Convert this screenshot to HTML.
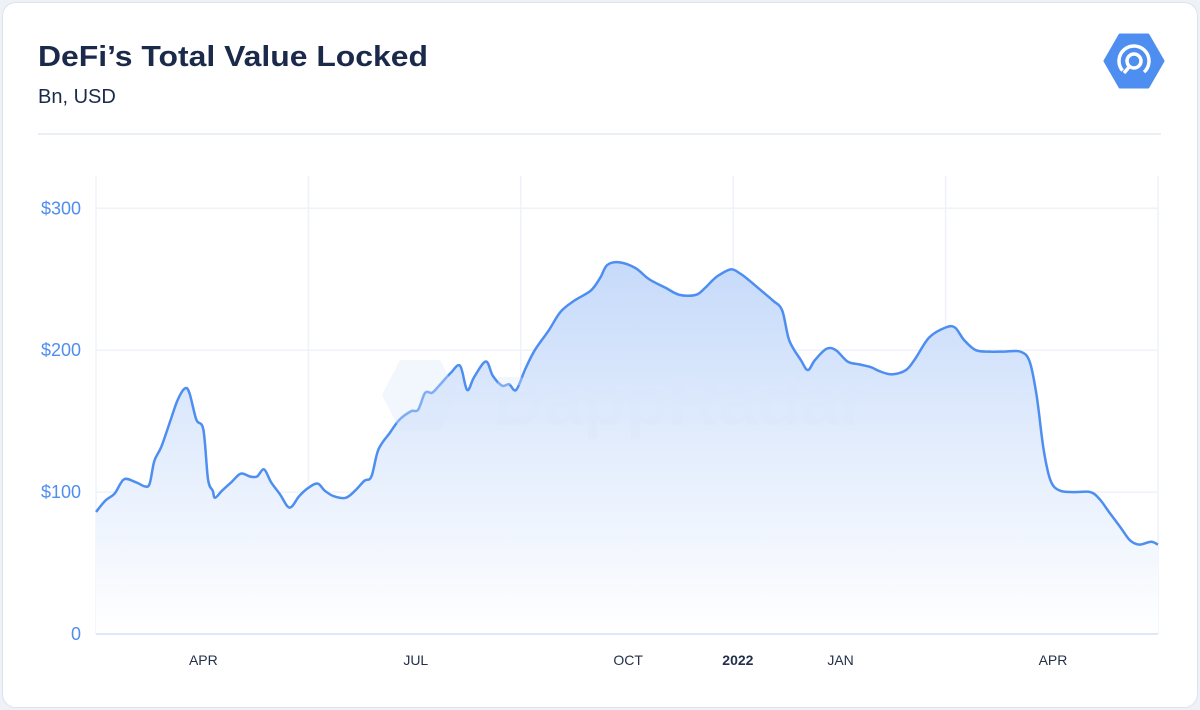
<!DOCTYPE html>
<html><head><meta charset="utf-8"><style>
body{margin:0;background:#eef1f6;font-family:"Liberation Sans",sans-serif;}
#card{position:absolute;left:2px;top:2px;width:1194px;height:704px;background:#fff;border:1px solid #dde3ee;border-radius:14px;}
</style></head><body>
<div id="card"></div>
<svg id="chart" width="1200" height="710" style="position:absolute;left:0;top:0">
<defs>
<linearGradient id="fillg" x1="0" y1="0" x2="0" y2="1">
<stop offset="0" stop-color="#c6dafa"/><stop offset="0.55" stop-color="#e6effd"/><stop offset="1" stop-color="#ffffff"/>
</linearGradient>
</defs>
<text x="38" y="66" font-size="29" font-weight="bold" fill="#1b2a4a" textLength="390" lengthAdjust="spacingAndGlyphs">DeFi’s Total Value Locked</text>
<text x="38" y="103" font-size="20" fill="#1b2a4a">Bn, USD</text>
<line x1="38" y1="134" x2="1161" y2="134" stroke="#e3e9f2" stroke-width="1.5"/>
<g>
<polygon points="1120,35 1148,35 1163,61 1148,87 1120,87 1105,61" fill="#4d8ef0" stroke="#4d8ef0" stroke-width="3" stroke-linejoin="round"/>
<circle cx="1134" cy="61" r="15" fill="none" stroke="#fff" stroke-width="3.5" stroke-dasharray="70 25" transform="rotate(140 1134 61)"/>
<circle cx="1134" cy="61" r="7" fill="none" stroke="#fff" stroke-width="3.5"/>
<line x1="1130" y1="66" x2="1124" y2="73" stroke="#fff" stroke-width="3.5"/>
</g>
<g id="grid"></g>
<g id="plot"></g>
<g opacity="0.35">
<polygon points="400,360 440,360 458,395 440,430 400,430 382,395" fill="#dbe7fb"/>
<text x="680" y="425" font-size="70" font-weight="bold" fill="#dbe7fb" text-anchor="middle">DappRadar</text>
</g>
<g id="axes"></g>
</svg>
<script>
const days=[0,4,8,12,17,21,23,25,28,32,35,38,40,43,46,48,50,51,54,58,62,66,69,72,75,79,82,84,87,91,95,98,102,107,111,115,118,121,126,130,135,138,141,144,147,152,156,159,162,167,170,174,177,180,184,188,194,199,205,212,216,219,224,231,237,244,250,257,261,264,267,272,276,280,285,290,294,297,302,305,308,313,317,322,327,332,336,341,347,351,357,364,368,372,377,383,389,396,400,403,406,409,413,419,426,430,434,439,443,447,452,455];
const tvl=[86,94,99,109,107,104,106,122,132,151,165,173,170,151,144,109,101,96,101,107,113,111,111,116,107,98,90,90,97,103,106,101,97,96,101,108,111,130,142,151,157,158,170,170,175,184,189,172,181,192,182,175,176,172,187,200,214,227,235,242,251,260,262,258,250,244,239,239,244,249,253,257,254,249,242,235,228,207,193,186,193,201,200,192,190,188,185,183,186,194,209,216,216,207,200,199,199,199,192,168,130,108,101,100,100,95,86,75,66,63,65,63];
const yTicks=[0,100,200,300];
const yTickLabels=["0","$100","$200","$300"];
const xTickDays=[46,137,228,275,319,410];
const xTickLabels=["APR","JUL","OCT","2022","JAN","APR"];
const gridDays=[0,91,182,273,364,455];
const X0=96,X1=1158,Y0=634,YPER=1.419,DMAX=455;
const xs=d=>X0+(d/DMAX)*(X1-X0);
const ys=v=>Y0-v*YPER;
const NS="http://www.w3.org/2000/svg";
function mk(tag,attrs,parent){const e=document.createElementNS(NS,tag);for(const k in attrs)e.setAttribute(k,attrs[k]);parent.appendChild(e);return e;}
const grid=document.getElementById('grid'),axes=document.getElementById('axes'),plot=document.getElementById('plot');
yTicks.forEach((t,i)=>{
 if(t>0){const l=mk('line',{x1:X0,x2:X1,y1:ys(t),y2:ys(t),stroke:'#eef2f9','stroke-width':1.5},grid);
 
 }
 const tx=mk('text',{x:81,y:ys(t)+6,'font-size':18,fill:'#4f8ef0','text-anchor':'end'},axes);
 tx.textContent=yTickLabels[i];
 
 
});
gridDays.forEach(d=>{
 const l=mk('line',{x1:xs(d),x2:xs(d),y1:176,y2:Y0,stroke:'#eef2f9','stroke-width':1.5},grid);
 
 
});
const base=mk('line',{x1:X0,x2:X1,y1:Y0,y2:Y0,stroke:'#dfe8f6','stroke-width':2},axes);


xTickDays.forEach((d,i)=>{
 const tx=mk('text',{x:xs(d),y:665,'font-size':14,fill:'#24304a','text-anchor':'middle','font-weight':xTickLabels[i]==='2022'?'bold':'normal'},axes);
 tx.textContent=xTickLabels[i];
 
 
});
const P=days.map((d,i)=>[xs(d),ys(tvl[i])]);
let dstr='M'+P[0][0]+','+P[0][1];
for(let i=0;i<P.length-1;i++){
 const p0=P[Math.max(0,i-1)],p1=P[i],p2=P[i+1],p3=P[Math.min(P.length-1,i+2)];
 const c1=[p1[0]+(p2[0]-p0[0])/6,p1[1]+(p2[1]-p0[1])/6],c2=[p2[0]-(p3[0]-p1[0])/6,p2[1]-(p3[1]-p1[1])/6];
 dstr+=' C'+c1[0]+','+c1[1]+' '+c2[0]+','+c2[1]+' '+p2[0]+','+p2[1];
}
const area=mk('path',{d:dstr+' L'+P[P.length-1][0]+','+Y0+' L'+P[0][0]+','+Y0+' Z',fill:'url(#fillg)'},plot);


const line=mk('path',{d:dstr,fill:'none',stroke:'#4d8ef0','stroke-width':2.5,'stroke-linejoin':'round'},plot);


</script>
</body></html>
